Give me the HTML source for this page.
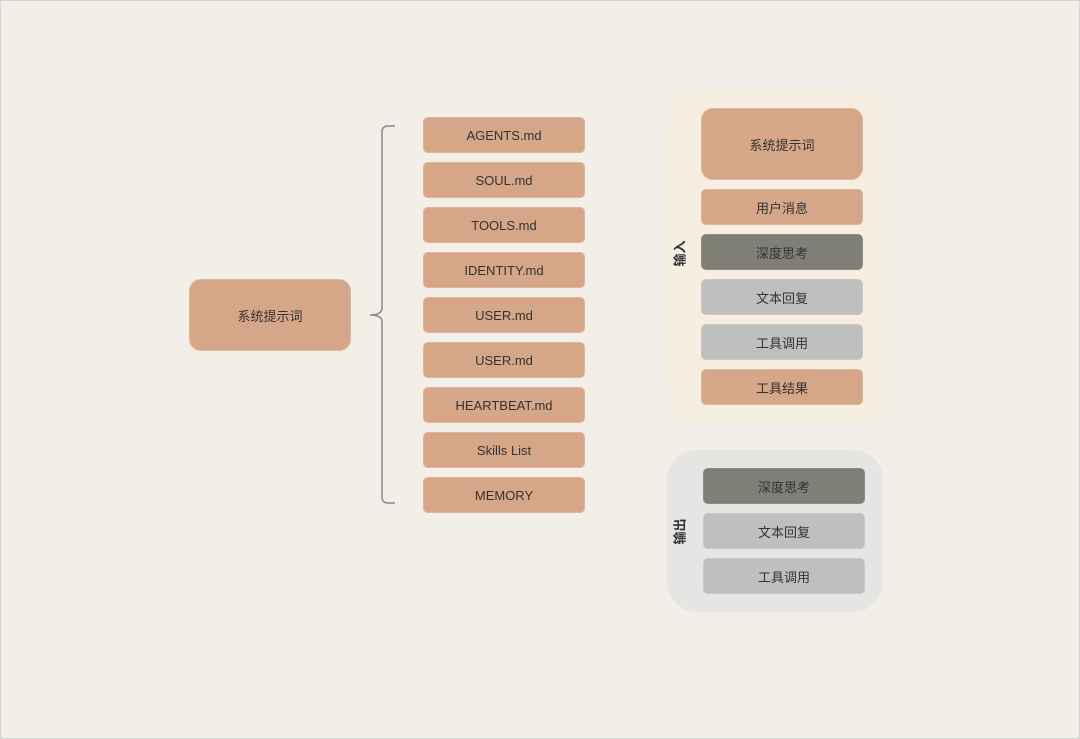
<!DOCTYPE html>
<html><head><meta charset="utf-8"><style>
body{margin:0;width:1080px;height:739px;background:#f2efe8;position:relative;overflow:hidden;font-family:"Liberation Sans","Noto Sans CJK SC",sans-serif;}
.frame{position:absolute;left:0;top:0;width:1078px;height:737px;border:1px solid #d6d4cf;}
.b{position:absolute;display:flex;align-items:center;justify-content:center;font-size:13px;color:#333;border-radius:5px;box-sizing:border-box;}
.o{background:#d5a687;border:1px solid #ddb59b;}
.d{background:#7f7f77;border:1px solid #8c8c85;color:#333;}
.g{background:#bfbfbf;border:1px solid #c8c8c8;}
.c{position:absolute;border-radius:30px;}
.lab{position:absolute;font-size:13px;font-weight:bold;color:#333;transform:rotate(-90deg);transform-origin:center;}
</style></head><body>
<div class="frame"></div>
<div class="b o" style="left:189px;top:279px;width:162px;height:72px;border-radius:12px;">系统提示词</div>
<svg style="position:absolute;left:0;top:0" width="1080" height="739">
<path d="M395 126 H388 Q382 126 382 132 V308 Q382 315 370 315 Q382 315 382 322 V497 Q382 503 388 503 H395" fill="none" stroke="#8a8a8a" stroke-width="1.5"/>
</svg>
<div class="b o" style="left:423px;top:117px;width:162px;height:36px;">AGENTS.md</div>
<div class="b o" style="left:423px;top:162px;width:162px;height:36px;">SOUL.md</div>
<div class="b o" style="left:423px;top:207px;width:162px;height:36px;">TOOLS.md</div>
<div class="b o" style="left:423px;top:252px;width:162px;height:36px;">IDENTITY.md</div>
<div class="b o" style="left:423px;top:297px;width:162px;height:36px;">USER.md</div>
<div class="b o" style="left:423px;top:342px;width:162px;height:36px;">USER.md</div>
<div class="b o" style="left:423px;top:387px;width:162px;height:36px;">HEARTBEAT.md</div>
<div class="b o" style="left:423px;top:432px;width:162px;height:36px;">Skills List</div>
<div class="b o" style="left:423px;top:477px;width:162px;height:36px;">MEMORY</div>

<div class="c" style="left:667px;top:91px;width:216px;height:331px;background:#f5eee1;"></div>
<div class="lab" style="left:666px;top:244px;">输入</div>
<div class="b o" style="left:701px;top:108px;width:162px;height:72px;border-radius:12px;">系统提示词</div>
<div class="b o" style="left:701px;top:189px;width:162px;height:36px;">用户消息</div>
<div class="b d" style="left:701px;top:234px;width:162px;height:36px;">深度思考</div>
<div class="b g" style="left:701px;top:279px;width:162px;height:36px;">文本回复</div>
<div class="b g" style="left:701px;top:324px;width:162px;height:36px;">工具调用</div>
<div class="b o" style="left:701px;top:369px;width:162px;height:36px;">工具结果</div>

<div class="c" style="left:667px;top:450px;width:216px;height:162px;background:#e6e5e3;"></div>
<div class="lab" style="left:666px;top:522px;">输出</div>
<div class="b d" style="left:703px;top:468px;width:162px;height:36px;">深度思考</div>
<div class="b g" style="left:703px;top:513px;width:162px;height:36px;">文本回复</div>
<div class="b g" style="left:703px;top:558px;width:162px;height:36px;">工具调用</div>
</body></html>
